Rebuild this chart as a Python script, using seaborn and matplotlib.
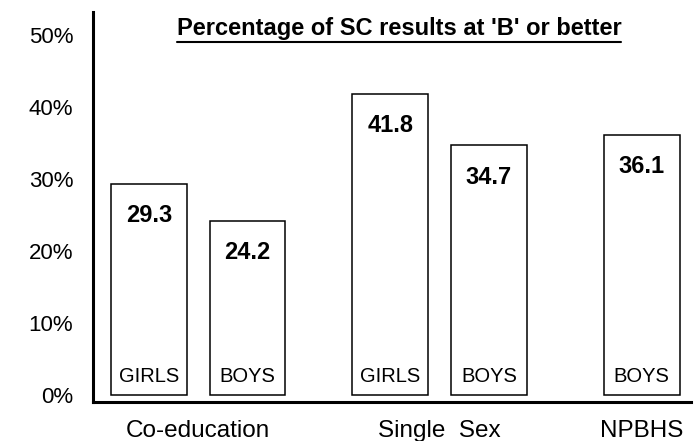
import numpy as np
import pandas as pd
import seaborn as sns
import matplotlib.pyplot as plt
from matplotlib.lines import Line2D

sns.set_theme(style="white")
plt.rcParams['font.family'] = ['Liberation Sans', 'DejaVu Sans']
plt.rcParams['text.color'] = 'black'
plt.rcParams['xtick.color'] = 'black'
plt.rcParams['ytick.color'] = 'black'

# data
groups = ['Co-education', 'Co-education', 'Single  Sex', 'Single  Sex', 'NPBHS']
sexes = ['GIRLS', 'BOYS', 'GIRLS', 'BOYS', 'BOYS']
values = [29.3, 24.2, 41.8, 34.7, 36.1]
yticks = [0, 10, 20, 30, 40, 50]
title = "Percentage of SC results at 'B' or better"

# layout: bar slots along x
slots = [0, 1, 2.45, 3.45, 5]
df = pd.DataFrame({'pos': slots, 'value': values, 'sex': sexes, 'group': groups})

fig = plt.figure(figsize=(6.98, 4.41), dpi=100)
ax = fig.add_axes([0.1328, 0.0884, 0.8572, 0.8844])

sns.barplot(data=df, x='pos', y='value', native_scale=True, width=0.77,
            color='white', edgecolor='black', linewidth=1.1, ax=ax)

ax.set_xlim(-0.57, 5.5)
ax.set_ylim(-1, 53.2)
ax.set_yticks(yticks)
ax.set_yticklabels([f"{t}%" for t in yticks], fontsize=16)
ax.tick_params(axis='y', length=0, pad=14)

# group labels under the axis
centres = df.groupby('group', sort=False)['pos'].mean()
ax.set_xticks(centres.values)
ax.set_xticklabels(centres.index, fontsize=17.5)
ax.tick_params(axis='x', length=0, pad=13)
ax.set_xlabel('')
ax.set_ylabel('')

for s in ['top', 'right']:
    ax.spines[s].set_visible(False)
for s in ['left', 'bottom']:
    ax.spines[s].set_color('black')
    ax.spines[s].set_linewidth(2.2)

for x, v, sx in zip(df['pos'], df['value'], df['sex']):
    ax.annotate(f"{v}", (x, v), xytext=(0, -23), textcoords='offset points',
                ha='center', va='center', fontsize=17, fontweight='bold')
    ax.annotate(sx, (x, 0), xytext=(0, 13), textcoords='offset points',
                ha='center', va='center', fontsize=14.5)

t = fig.text(399 / 698, 1 - 29 / 441, title, ha='center', va='center',
             fontsize=17, fontweight='bold')
fig.canvas.draw()
bb = t.get_window_extent()
W, H = fig.bbox.width, fig.bbox.height
fig.add_artist(Line2D([bb.x0 / W, bb.x1 / W], [(bb.y0 - 1) / H] * 2,
                      color='black', linewidth=1.5, transform=fig.transFigure))

fig.savefig('out.png', dpi=100)
